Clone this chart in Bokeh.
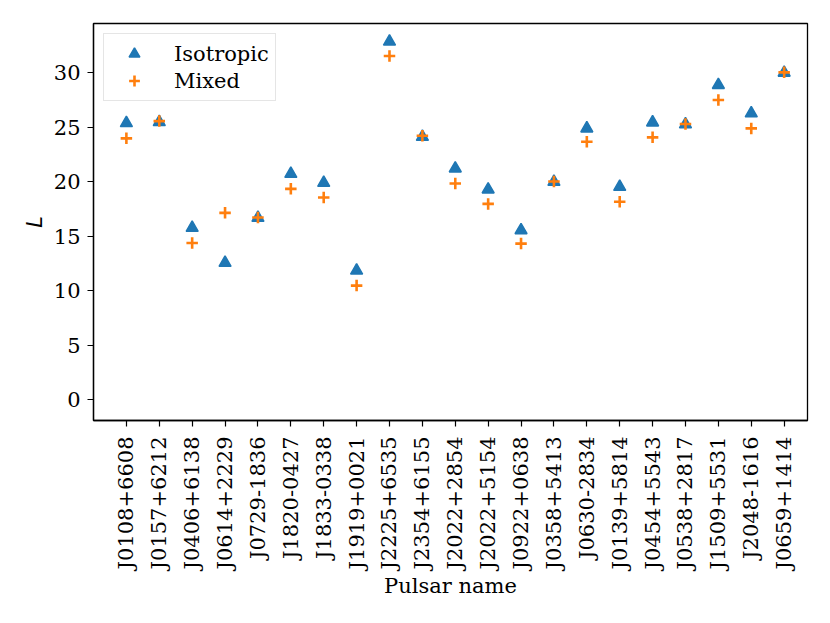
import math
from bokeh.plotting import figure
from bokeh.models import Range1d, FixedTicker
from bokeh.embed import file_html
from bokeh.resources import INLINE

pulsars = ["J0108+6608", "J0157+6212", "J0406+6138", "J0614+2229", "J0729-1836",
           "J1820-0427", "J1833-0338", "J1919+0021", "J2225+6535", "J2354+6155",
           "J2022+2854", "J2022+5154", "J0922+0638", "J0358+5413", "J0630-2834",
           "J0139+5814", "J0454+5543", "J0538+2817", "J1509+5531", "J2048-1616",
           "J0659+1414"]
isotropic = [25.37, 25.46, 15.76, 12.55, 16.68, 20.72, 19.89, 11.84, 32.84, 24.11,
             21.21, 19.28, 15.55, 19.98, 24.88, 19.52, 25.43, 25.25, 28.86, 26.26,
             29.99]
mixed = [23.97, 25.55, 14.38, 17.14, 16.71, 19.34, 18.55, 10.47, 31.52, 24.21,
         19.83, 17.96, 14.32, 20.02, 23.66, 18.15, 24.06, 25.28, 27.48, 24.88,
         30.02]
y_ticks = [0, 5, 10, 15, 20, 25, 30]

x_idx = list(range(len(pulsars)))

FONT = "DejaVu Serif"
FS = "21px"

p = figure(width=820, height=608, output_backend="svg", toolbar_location=None,
           x_range=Range1d(-1.0, 20.71), y_range=Range1d(-1.9, 34.5),
           min_border_left=93, min_border_right=13, min_border_top=23,
           min_border_bottom=188)
p.background_fill_color = "white"
p.border_fill_color = "white"
p.outline_line_color = "black"
p.outline_line_width = 1.3
p.grid.visible = False

p.scatter(x_idx, isotropic, marker="triangle", size=12, fill_color="#1f77b4",
          line_color="#1f77b4", line_width=1.5, legend_label="Isotropic")
p.scatter(x_idx, mixed, marker="cross", size=11.5, line_color="#ff7f0e",
          line_width=2.6, legend_label="Mixed")

p.xaxis.ticker = FixedTicker(ticks=x_idx)
p.xaxis.major_label_overrides = {i: n for i, n in enumerate(pulsars)}
p.xaxis.major_label_orientation = math.pi / 2
p.xaxis.major_label_standoff = 10
p.xaxis.axis_label = "Pulsar name"
p.xaxis.axis_label_standoff = 2

p.yaxis.ticker = FixedTicker(ticks=y_ticks)
p.yaxis.major_label_standoff = 7
p.yaxis.axis_label = "L"
p.yaxis.axis_label_standoff = 4
p.yaxis.axis_label_text_font = "DejaVu Sans"
p.yaxis.axis_label_text_font_style = "italic"

for ax in (p.xaxis, p.yaxis):
    ax.minor_tick_line_color = None
    ax.major_tick_out = 6
    ax.major_tick_in = 0
    ax.major_tick_line_color = "black"
    ax.major_tick_line_width = 1.2
    ax.axis_line_color = "black"
    ax.axis_line_width = 1.3
    ax.major_label_text_font = FONT
    ax.major_label_text_font_size = FS
    ax.major_label_text_color = "black"
    ax.axis_label_text_font_size = FS
    ax.axis_label_text_color = "black"
p.xaxis.axis_label_text_font = FONT
p.xaxis.axis_label_text_font_style = "normal"

lg = p.legend[0]
lg.location = "top_left"
lg.margin = 10
lg.padding = 6
lg.spacing = 0
lg.glyph_width = 48
lg.glyph_height = 27
lg.label_height = 22
lg.label_standoff = 16
lg.label_text_font = FONT
lg.label_text_font_size = FS
lg.label_text_color = "black"
lg.border_line_color = "#cccccc"
lg.border_line_width = 1
lg.background_fill_alpha = 0.8

open("out.html", "w").write(file_html(p, INLINE))
